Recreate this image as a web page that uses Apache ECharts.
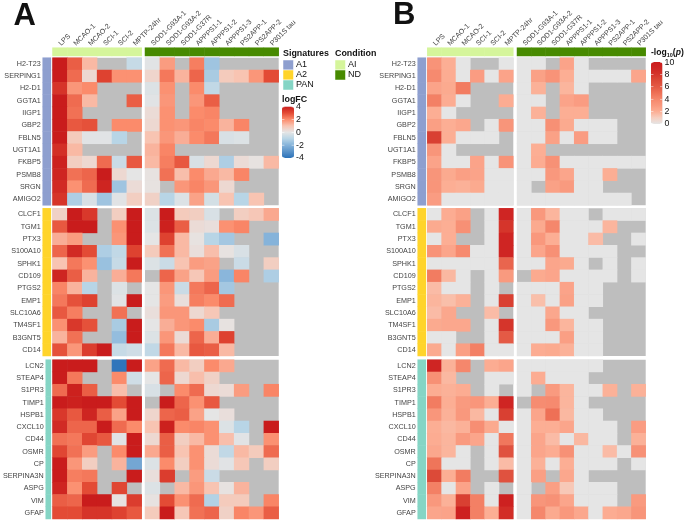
<!DOCTYPE html>
<html>
<head>
<meta charset="utf-8">
<title>Heatmaps</title>
<script src="https://cdn.jsdelivr.net/npm/echarts@6/dist/echarts.min.js"></script>
<style>
html,body{margin:0;padding:0;background:#fff}
#chart{width:685px;height:520px}
</style>
</head>
<body>
<div id="chart"></div>
<script>
var _ = null; // not measured, shows as the grey background

var aiCols = ['LPS','MCAO-1','MCAO-2','SCI-1','SCI-2','MPTP-24hr'];
var ndCols = ['SOD1-G93A-1','SOD1-G93A-2','SOD1-G37R','APPPS1-1','APPPS1-2','APPPS1-3','PS2APP-1','PS2APP-2','P301S tau'];

var a1Genes = ['H2-T23','SERPING1','H2-D1','GGTA1','IIGP1','GBP2','FBLN5','UGT1A1','FKBP5','PSMB8','SRGN','AMIGO2'];
var a2Genes = ['CLCF1','TGM1','PTX3','S100A10','SPHK1','CD109','PTGS2','EMP1','SLC10A6','TM4SF1','B3GNT5','CD14'];
var panGenes = ['LCN2','STEAP4','S1PR3','TIMP1','HSPB1','CXCL10','CD44','OSMR','CP','SERPINA3N','ASPG','VIM','GFAP'];

// logFC, panel A
var fcA1 = [
  [4,2.7,1.2,_,_,-0.7, -0.1,1.7,_,2.2,-1.5,_,_,_,_],
  [4,2.5,0.4,3.2,1.9,1.9, 0.5,2.3,1.3,2.6,-1.3,0.8,1,1.8,3],
  [3.5,1.8,2,_,_,_, -0.2,1.9,_,2,-0.8,_,_,_,_],
  [4,2.5,1.2,_,_,2.7, -0.1,1.8,_,1.8,2.7,_,_,_,_],
  [4,2.4,_,_,_,_, 0.3,1.9,_,2,2.1,_,_,_,_],
  [4,2.8,2.9,_,2,2, 0.4,1.9,1.8,2.1,2,1.3,2.1,_,_],
  [4,0.8,-0.1,-0.1,-1,_, 1,1.8,1.4,2,2.3,-0.3,-0.2,_,_],
  [3.6,1.2,_,_,_,_, 1.3,2.1,_,_,_,_,_,_,_],
  [3.9,0.7,0.4,2.5,-0.6,2.8, 1.2,2.2,2.8,-0.3,0.4,-1.2,0.3,0.1,1.2],
  [3.8,2.4,2.6,4,0.4,0, 0.1,2.4,1.1,2,1.5,1.2,2.1,_,_],
  [3.7,1.9,2.5,3.8,-1.5,0.3, 0.1,_,1.8,2.1,1.8,0.4,_,_,_],
  [3.5,-1.2,-0.3,-1.5,-0.1,0.7, 0.6,-1,-0.2,1.6,-0.4,1,-1,1,_]
];
var fcA2 = [
  [0.6,4,3.4,_,0.7,4, -0.2,4,0.8,0.7,-0.3,_,0.7,0.9,1.5],
  [2.8,4,4,_,1.9,4, -0.2,3.9,2.7,0.3,0.2,1.9,2.1,_,_],
  [1.4,1.7,_,_,1.8,4, 0,3.2,1.2,0.1,-1,-1.4,_,_,-2],
  [2.6,3.7,3,-1.2,-0.8,3.2, 0.8,2.4,1.2,0.2,1.1,0.1,-0.3,_,_],
  [1,2.3,1.9,-1.6,-0.7,4, -0.2,-0.6,1,1.7,1.6,_,-0.6,_,0.7],
  [3.8,2.7,1.3,_,1.4,2.3, _,2.6,1.6,0.9,1.7,-1.9,2.1,_,-1.2],
  [2.1,1.3,-1,_,-0.2,_, 0,1.8,-0.6,2.3,2.6,-1.4,_,_,_],
  [2.3,2.9,3.2,_,-0.1,4, 0,1.7,0.2,2.2,2,2.5,_,_,_],
  [2.8,2.2,_,_,2.4,_, 0.2,1.8,1.8,0.4,0.9,_,_,_,_],
  [1.9,3.4,2.9,_,-1.3,4, 0,1.4,1.8,2,-1.3,0.1,_,_,_],
  [1.3,2.4,_,_,-1.7,4, -0.2,1.8,0.3,2.6,1.4,3.2,_,_,_],
  [2.9,1.8,3.3,4,-0.7,-0.5, -0.8,2.3,1.2,2.8,2.7,1.2,_,_,_]
];
var fcPan = [
  [4,4,4,_,-3.9,4, 1.6,2.5,1.2,0.7,2,1.5,_,_,_],
  [4,2.3,_,_,2,-0.5, 0,2.6,0.4,1.1,0.6,_,_,_,_],
  [2.5,3.9,2.7,_,1.1,_, -0.3,_,2,2.5,0.4,0.3,1.7,_,2.1],
  [4,3.9,4,4,3,4, _,4,2.6,1.9,2.8,_,_,_,_],
  [3.4,2.8,3.8,2.7,1.6,4, 0.5,2.6,2.7,1.6,0,0.2,_,_,_],
  [3.7,2.6,2.6,4,2.5,2, 1,3.9,2,2.1,1.9,-0.2,-1,_,4],
  [2.4,2.3,3.1,2.8,-0.1,4, 0.4,2.7,0.7,1.2,1.9,1.1,-0.1,_,1.9],
  [3.1,2.4,1.7,_,2,4, 1.5,2.7,1,1.9,0.3,-0.8,1.2,0.8,2.5],
  [4,1.8,0.7,_,1.3,-2.4, -0.2,2,0.7,1.9,0.3,-0.1,0.9,_,0.7],
  [4,2.2,2.3,_,_,4, 0.2,3.3,_,1.7,-0.6,_,_,_,_],
  [3.8,1.9,3,_,3.1,_, -0.2,_,1.2,1.8,1,0.1,1.3,_,_],
  [2.7,2.6,4,4,0.1,3.3, 0.1,3,1.9,2.5,-1.1,0.8,0.8,_,2.1],
  [3,3,3.5,3.5,3.2,2.8, 0.8,4,0.9,2.4,2.6,0.6,2.1,1.8,2.7]
];

// -log10(p), panel B
var pA1 = [
  [3.3,2,0,_,_,0, 0,0,_,2.5,0,_,_,_,_],
  [3.8,2.1,0,2.8,0,2.5, 0,2.6,3.3,2,0,0,0,0,2.4],
  [2.5,2.2,4.5,_,_,_, 0,1.9,_,1.8,0,_,_,_,_],
  [4.3,2.1,0,_,_,2.1, 0,0,_,2.5,2.8,_,_,_,_],
  [2,0,_,_,_,_, 0,1.9,_,2,2,_,_,_,_],
  [2.7,2,2.3,_,0,3.2, 0,0,3.5,2.2,0,0,0,_,_],
  [7.5,2,0,0,0,_, 0,0,2.6,0,2.8,0,0,_,_],
  [3.2,0,_,_,_,_, 0,2,_,_,_,_,_,_,_],
  [2.5,0,0,2.5,0,3.3, 0,2.1,3.4,0,0,0,0,0,0],
  [3.2,2.2,2.7,2.5,0,0, 0,0,3,2.4,0,0,2,_,_],
  [3.2,2,1.9,2.2,0,0, 0,_,2.6,2.9,0,0,_,_,_],
  [2.8,0,0,0,0,0, 0,0,0,0,0,0,0,0,_]
];
var pA2 = [
  [0,2.1,2.6,_,0,9, 0,3,1.8,0,0,_,0,0,0],
  [2.2,2,3.5,_,0,8, 0,2.2,4,0,0,0,1.8,_,_],
  [0,2,_,_,0,9, 0,3,2,0,0,1.6,_,_,0],
  [3.3,2.4,3.8,0,0,9, 0,2.4,3.5,0,0,0,0,_,_],
  [0,0,0,0,0,5.5, 0,0,2.4,2.2,0,_,0,_,0],
  [4.5,1.7,0,_,0,2.9, _,2.2,2.4,0,0,0,0,_,0],
  [1.6,0,0,_,0,_, 0,0,0,2.5,0,0,_,_,_],
  [1.8,1.5,1.9,_,0,7.5, 0,1.5,0,2.6,0,0,_,_,_],
  [1.6,2.3,_,_,1.6,_, 0,0,2.3,0,0,_,_,_,_],
  [2.2,2.3,2.3,_,0,8, 0,0,3,1.8,0,0,_,_,_],
  [0,0,_,_,0,6, 0,0,0,2.7,0,0,_,_,_],
  [2.2,0,2.7,4.3,0,0, 0,2.1,2.2,1.9,0,0,_,_,_]
];
var pPan = [
  [9,1.9,4,_,2.1,2.4, 0,0,0,0,0,0,_,_,_],
  [3.5,1.7,_,_,0,0, 0,2.1,0,0,0,_,_,_,_],
  [2.1,1.9,2.1,_,0,_, 0,_,2.9,1.8,0,0,1.9,_,1.9],
  [4.5,2,2.9,3.1,2,9, _,3.7,3.8,1.8,0,_,_,_,_],
  [3.1,1.9,3,1.7,0,7.5, 0,2.4,5,1.7,0,0,_,_,_],
  [2,1.7,1.9,3.6,2.2,0, 0,2,2,2.4,0,0,0,_,2.8],
  [2.1,1.8,2.9,2.4,0,4.7, 0,2.4,1.6,0,1.7,0,0,_,1.9],
  [2.3,1.8,0,_,0,6.5, 0,2.4,2.1,3.4,0,0,1.6,0,3.4],
  [4.8,0,0,_,0,1.6, 0,1.9,0,2,0,0,0,_,0],
  [7,2,4.5,_,_,6.5, 0,2.7,_,2.3,0,_,_,_,_],
  [4.3,0,2.5,_,0,_, 0,_,2.7,1.2,0,0,0,_,_],
  [3,1.9,7.5,4.3,0,9.5, 0,3.2,3.4,2.4,0,0,0,_,2.9],
  [2.4,2.5,9.5,4.3,2,8.5, 0,4,2.2,3,2.3,0,2.1,2.3,3.2]
];

var fcTicks = [4,2,0,-2,-4];
var pTicks = [10,8,6,4,2,0];
var signatureNames = ['A1','A2','PAN'];
var conditionNames = ['AI','ND'];

var sigColors = {A1:'#8e9fcf', A2:'#ffd42a', PAN:'#85d5c5'};
var condColors = {AI:'#d5f59b', ND:'#478a00'};
var naColor = '#bebebe';
var font = '"Liberation Sans", Arial, sans-serif';

// rows of the three blocks
var blocks = [
  {sig:'A1', genes:a1Genes, top:57.7, height:147.6},
  {sig:'A2', genes:a2Genes, top:208.3, height:147.7},
  {sig:'PAN', genes:panGenes, top:359.7, height:159.3}
];
var panels = [
  {stripX:42.7, aiX:52.5, aiW:89.2, ndX:145, ndW:133.7, data:[fcA1,fcA2,fcPan]},
  {stripX:417.7, aiX:427.3, aiW:86, ndX:517, ndW:128.7, data:[pA1,pA2,pPan]}
];

var grids = [], xAxes = [], yAxes = [], series = [];
var heatIdx = [[],[]];

function addGrid(left, top, w, h, bg, xData, yData, xOpt, yOpt) {
  var i = grids.length;
  grids.push({left:left, top:top, width:w, height:h, show:!!bg, backgroundColor:bg||'transparent', borderWidth:0});
  xAxes.push(Object.assign({type:'category', gridIndex:i, data:xData, axisLine:{show:false}, axisTick:{show:false}, axisLabel:{show:false}, splitLine:{show:false}}, xOpt||{}));
  yAxes.push(Object.assign({type:'category', gridIndex:i, data:yData, inverse:true, axisLine:{show:false}, axisTick:{show:false}, axisLabel:{show:false}, splitLine:{show:false}}, yOpt||{}));
  return i;
}

function cells(rows, from, to) {
  var out = [];
  rows.forEach(function (row, y) {
    for (var x = from; x < to; x++) {
      if (row[x] !== null) out.push([x - from, y, row[x]]);
    }
  });
  return out;
}

panels.forEach(function (p, pi) {
  // condition strips, they carry the column labels
  var topLabel = {show:true, interval:0, rotate:-45, margin:3, align:'left', verticalAlign:'middle', fontSize:7.1, color:'#444', fontFamily:font};
  [[aiCols,'AI',p.aiX,p.aiW],[ndCols,'ND',p.ndX,p.ndW]].forEach(function (c) {
    var g = addGrid(c[2], 47.7, c[3], 8.3, null, c[0], ['c'], {position:'top', axisLabel:topLabel});
    series.push({type:'heatmap', xAxisIndex:g, yAxisIndex:g, silent:true,
      itemStyle:{color:condColors[c[1]]},
      data:c[0].map(function (n, i) { return [i, 0, 1]; })});
  });

  blocks.forEach(function (b, bi) {
    // signature strip, carries the gene labels
    var g = addGrid(p.stripX, b.top, 8.2, b.height, null, ['s'], b.genes, null,
      {axisLabel:{show:true, interval:0, margin:2, fontSize:7.2, color:'#444', fontFamily:font}});
    series.push({type:'heatmap', xAxisIndex:g, yAxisIndex:g, silent:true,
      itemStyle:{color:sigColors[b.sig]},
      data:b.genes.map(function (n, i) { return [0, i, 1]; })});

    var g1 = addGrid(p.aiX, b.top, p.aiW, b.height, naColor, aiCols, b.genes);
    heatIdx[pi].push(series.length);
    series.push({type:'heatmap', xAxisIndex:g1, yAxisIndex:g1, silent:true, data:cells(p.data[bi], 0, 6)});

    var g2 = addGrid(p.ndX, b.top, p.ndW, b.height, naColor, ndCols, b.genes);
    heatIdx[pi].push(series.length);
    series.push({type:'heatmap', xAxisIndex:g2, yAxisIndex:g2, silent:true, data:cells(p.data[bi], 6, 15)});
  });
});

// legends
var graphics = [];
function label(x, y, text, size, bold, extra) {
  graphics.push({type:'text', x:x, y:y, silent:true, z:10, style:Object.assign({
    text:text, fontSize:size, fontWeight:bold ? 'bold' : 'normal', fontFamily:font,
    fill:'#111', textVerticalAlign:'middle', verticalAlign:'middle'}, extra||{})});
}
function swatch(x, y, color, name) {
  graphics.push({type:'rect', x:x, y:y, silent:true, shape:{width:10.5, height:10}, style:{fill:color, stroke:'#fff', lineWidth:0.5}});
  label(x + 13, y + 5, name, 9);
}
function ticks(values, x, w, top, h, vmax, vmin) {
  values.forEach(function (v) {
    var y = top + h * (vmax - v) / (vmax - vmin);
    y = Math.min(Math.max(y, top + 0.5), top + h - 0.5);
    graphics.push({type:'rect', x:x, y:y - 0.25, silent:true, z:10, shape:{width:2.4, height:0.5}, style:{fill:'#fff'}});
    graphics.push({type:'rect', x:x + w - 2.4, y:y - 0.25, silent:true, z:10, shape:{width:2.4, height:0.5}, style:{fill:'#fff'}});
    label(x + w + 2, y, String(v), 8.8);
  });
}

label(13.5, 16, 'A', 31, true);
label(393, 15, 'B', 31, true);

label(283, 54, 'Signatures', 8.9, true);
signatureNames.forEach(function (n, i) { swatch(283, 60 + i * 10, sigColors[n], n); });
label(335, 54, 'Condition', 8.9, true);
conditionNames.forEach(function (n, i) { swatch(335, 60 + i * 10, condColors[n], n); });
label(282, 99.5, 'logFC', 8.9, true);
ticks(fcTicks, 282, 12, 106.5, 51.5, 4, -4);

graphics.push({type:'text', x:651, y:53, silent:true, z:10, style:{
  text:'{b|-log}{s|10}{b|(}{i|p}{b|)}', verticalAlign:'middle', fontFamily:font, fill:'#111',
  rich:{
    b:{fontSize:8.6, fontWeight:'bold', fontFamily:font, fill:'#111'},
    s:{fontSize:5.5, fontWeight:'bold', fontFamily:font, fill:'#111', padding:[4,0,0,0]},
    i:{fontSize:8.6, fontWeight:'bold', fontStyle:'italic', fontFamily:font, fill:'#111'}
  }
}});
ticks(pTicks, 651, 11.5, 62, 62, 10, 0);

var chart = echarts.init(document.getElementById('chart'), null, {renderer:'canvas'});
chart.setOption({
  animation:false,
  backgroundColor:'#fff',
  grid:grids, xAxis:xAxes, yAxis:yAxes, series:series,
  visualMap:[
    {type:'continuous', seriesIndex:heatIdx[0], min:-4, max:4, left:282, top:106.5, itemWidth:12, itemHeight:51.5,
     text:['',''], textGap:0, calculable:false, hoverLink:false, silent:true, padding:0,
     inRange:{color:['#2b72b9','#5a93c9','#85b3da','#b8d5e6','#e5e5e5','#f8c4b2','#fb8b6b','#e34b35','#c91c1c']}},
    {type:'continuous', seriesIndex:heatIdx[1], min:0, max:10, left:651, top:62, itemWidth:11.5, itemHeight:62,
     text:['',''], textGap:0, calculable:false, hoverLink:false, silent:true, padding:0,
     inRange:{color:['#e5e5e5','#f6cfc0','#fcae94','#f9987d','#f5876c','#ee7056','#e45a45','#dc4a38','#d5352b','#cf2523','#cb1c1c']}}
  ],
  graphic:graphics
});
</script>
</body>
</html>
